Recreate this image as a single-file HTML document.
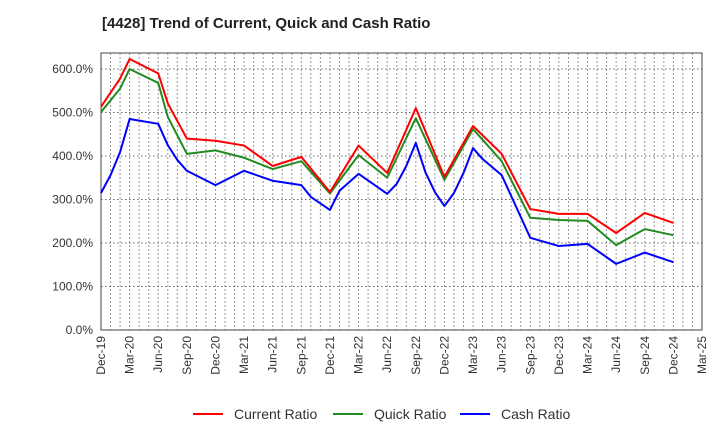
<!DOCTYPE html>
<html><head><meta charset="utf-8"><style>
body{margin:0;background:#fff;font-family:"Liberation Sans",sans-serif;}
</style></head><body>
<svg id="c" width="720" height="440" xmlns="http://www.w3.org/2000/svg">
<text x="102" y="28" font-size="15" font-weight="bold" fill="#222">[4428]  Trend of Current, Quick and Cash Ratio</text>
<g id="grid"></g><g id="axes"></g><g id="series"></g><g id="legend"></g>
</svg>
<script>
const xLabels=["Dec-19","Mar-20","Jun-20","Sep-20","Dec-20","Mar-21","Jun-21","Sep-21","Dec-21","Mar-22","Jun-22","Sep-22","Dec-22","Mar-23","Jun-23","Sep-23","Dec-23","Mar-24","Jun-24","Sep-24","Dec-24","Mar-25"];
const yTicks=[0,100,200,300,400,500,600];
const currentMonths=[0,2,3,6,7,9,12,15,18,21,24,27,30,33,36,39,42,45,48,51,54,57,60];
const currentVals=[513,578,623,590,521,440,435,424,377,398,317,424,361,510,352,469,405,278,267,267,223,269,246];
const quickMonths=[0,2,3,6,7,9,12,15,18,21,24,27,30,33,36,39,42,45,48,51,54,57,60];
const quickVals=[501,555,600,568,490,405,413,396,370,388,314,402,350,487,345,462,388,258,253,251,195,232,218];
const cashMonths=[0,1,2,3,6,7,8,9,12,15,18,21,22,24,25,27,30,31,32,33,34,35,36,37,38,39,40,42,45,48,51,54,57,60];
const cashVals=[315,356,409,485,474,425,391,366,333,366,343,333,306,276,320,359,313,336,377,430,363,317,285,315,361,418,393,356,212,193,198,152,178,156];
const X0=101,X1=702,Y0=330,Y600=69,NM=63;
const xs=m=>X0+m*(X1-X0)/NM;
const ys=v=>Y0-v*(Y0-Y600)/600;
const NS="http://www.w3.org/2000/svg";
function mk(t,a,p){const e=document.createElementNS(NS,t);for(const k in a)e.setAttribute(k,a[k]);p.appendChild(e);return e;}
const grid=document.getElementById('grid'),axes=document.getElementById('axes'),ser=document.getElementById('series'),leg=document.getElementById('legend');
for(let m=1;m<NM;m++){const l=mk('line',{x1:xs(m),x2:xs(m),y1:53,y2:Y0,stroke:'#999','stroke-dasharray':'2,2','stroke-width':1},grid);

}
yTicks.forEach(v=>{if(v>0){const l=mk('line',{x1:X0,x2:X1,y1:ys(v),y2:ys(v),stroke:'#666','stroke-dasharray':'1.5,2.5','stroke-width':1},grid);

}
const t=mk('text',{x:93,y:ys(v)+4,'text-anchor':'end','font-size':12,fill:'#333'},axes);t.textContent=v.toFixed(1)+'%';

});
const box=mk('rect',{x:X0,y:53,width:X1-X0,height:Y0-53,fill:'none',stroke:'#444','stroke-width':1},axes);


xLabels.forEach((s,i)=>{const x=xs(i*3);const t=mk('text',{x:0,y:0,transform:`translate(${x+4},336) rotate(-90)`,'text-anchor':'end','font-size':12,fill:'#333'},axes);t.textContent=s;

});
function line(ms,vs,c,name){const p=mk('polyline',{points:ms.map((m,i)=>xs(m)+','+ys(vs[i])).join(' '),fill:'none',stroke:c,'stroke-width':2,'stroke-linejoin':'round'},ser);

}
line(cashMonths,cashVals,'#0000ff','cash-ratio-line');
line(quickMonths,quickVals,'#228b22','quick-ratio-line');
line(currentMonths,currentVals,'#ff0000','current-ratio-line');
[['Current Ratio','#ff0000',193],['Quick Ratio','#228b22',333],['Cash Ratio','#0000ff',460]].forEach(([n,c,x])=>{
const g=mk('g',{},leg);


mk('line',{x1:x,x2:x+30,y1:414,y2:414,stroke:c,'stroke-width':2},g);
const t=mk('text',{x:x+41,y:419,'font-size':14,fill:'#333'},g);t.textContent=n;});
</script>
</body></html>
